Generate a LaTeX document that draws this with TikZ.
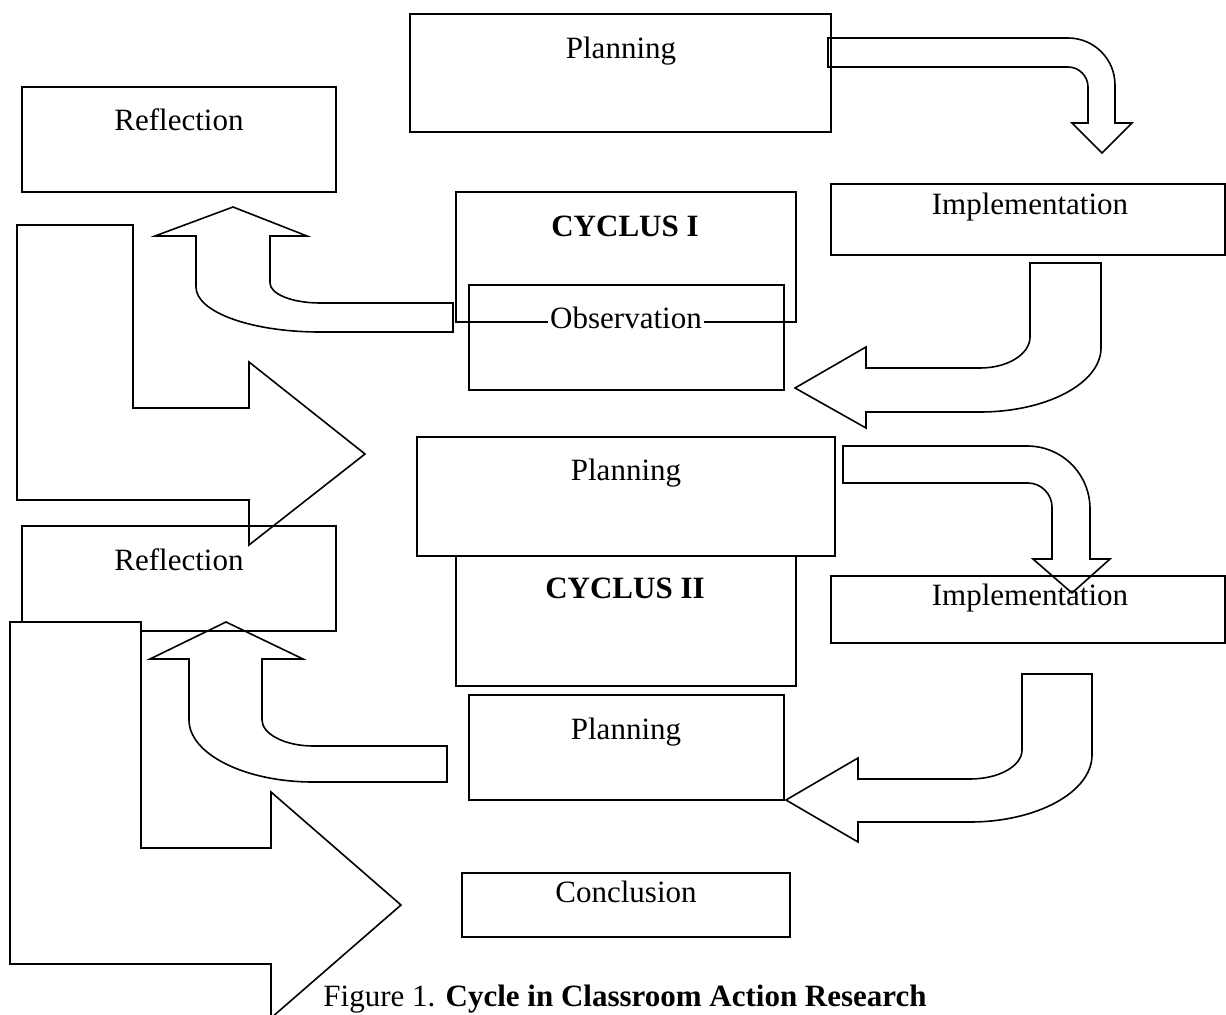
\documentclass[tikz,border=0pt]{standalone}
\usepackage{fontspec}
\setmainfont{Liberation Serif}
\usetikzlibrary{fit}
\begin{document}
\begin{tikzpicture}[x=0.5pt,y=-0.5pt,
  box/.style={draw,line width=1pt,inner sep=0pt,outer sep=0pt},
  barrow/.style={draw,line width=0.8pt,line join=miter},
  txt/.style={anchor=base,inner sep=0pt,font=\fontsize{15.5}{18}\selectfont},
  btxt/.style={txt,font=\fontsize{15.5}{18}\selectfont\bfseries}]
\useasboundingbox (0,0) rectangle (1226,1015);
\clip (0,0) rectangle (1226,1015);
% boxes
\node[box,fit={(410,14)(831,132)}] (plan1) {};
\node[box,fit={(22,87)(336,192)}] (refl1) {};
\node[box,fit={(831,184)(1225,255)}] (impl1) {};
\node[box,fit={(456,192)(796,322)}] (cyc1) {};
\node[box,fit={(469,285)(784,390)}] (obs) {};
\node[box,fit={(417,437)(835,556)}] (plan2) {};
\node[box,fit={(456,556)(796,686)}] (cyc2) {};
\node[box,fit={(469,695)(784,800)}] (plan3) {};
\node[box,fit={(22,526)(336,631)}] (refl2) {};
\node[box,fit={(831,576)(1225,643)}] (impl2) {};
\node[box,fit={(462,873)(790,937)}] (concl) {};
% block arrows
% A: Planning -> Implementation (cycle I)
\draw[barrow] (828,38) -- (1068,38) .. controls (1094,38) and (1115,59) .. (1115,85)
  -- (1115,123) -- (1132,123) -- (1102,153) -- (1072,123) -- (1088,123) -- (1088,87)
  .. controls (1088,76) and (1079,67) .. (1068,67) -- (828,67) -- cycle;
% B: Planning -> Implementation (cycle II)
\draw[barrow] (843,446) -- (1027,446) .. controls (1062,446) and (1090,474) .. (1090,509)
  -- (1090,559) -- (1110,559) -- (1072,593) -- (1033,559) -- (1052,559) -- (1052,507)
  .. controls (1052,494) and (1041,483) .. (1028,483) -- (843,483) -- cycle;
% C: Implementation -> Observation
\draw[barrow] (1030,263) -- (1101,263) -- (1101,348) .. controls (1101,383) and (1047,412) .. (980,412)
  -- (866,412) -- (866,428) -- (795,388) -- (866,347) -- (866,368) -- (980,368)
  .. controls (1008,368) and (1030,354) .. (1030,337) -- cycle;
% D: Implementation -> Planning (bottom)
\draw[barrow] (1022,674) -- (1092,674) -- (1092,755) .. controls (1092,792) and (1037,822) .. (970,822)
  -- (858,822) -- (858,842) -- (786,800) -- (858,758) -- (858,779) -- (970,779)
  .. controls (999,779) and (1022,766) .. (1022,750) -- cycle;
% E: Observation -> Reflection
\draw[barrow] (453,303) -- (320,303) .. controls (292,303) and (270,294) .. (270,283)
  -- (270,236) -- (307,236) -- (233,207) -- (155,236) -- (196,236) -- (196,287)
  .. controls (196,312) and (251,332) .. (320,332) -- (453,332) -- cycle;
% F: Planning (bottom) -> Reflection
\draw[barrow] (447,746) -- (313,746) .. controls (285,746) and (262,734) .. (262,720)
  -- (262,659) -- (303,659) -- (226,622) -- (150,659) -- (189,659) -- (189,720)
  .. controls (189,754) and (245,782) .. (313,782) -- (447,782) -- cycle;
% G: Reflection -> Planning (cycle II)
\draw[barrow] (17,225) -- (133,225) -- (133,408) -- (249,408) -- (249,362) -- (365,454)
  -- (249,545) -- (249,500) -- (17,500) -- cycle;
% H: Reflection -> Conclusion
\draw[barrow,fill=white] (10,622) -- (141,622) -- (141,848) -- (271,848) -- (271,792) -- (401,905)
  -- (271,1018) -- (271,964) -- (10,964) -- cycle;
% texts
\node[txt] (plan1t) at (621,59) {Planning};
\node[txt] (refl1t) at (179,131) {Reflection};
\node[txt] (impl1t) at (1030,215) {Implementation};
\node[btxt] (cyc1t) at (625,237) {CYCLUS I};
\node[txt,fill=white,inner sep=1pt] (obst) at (626,329) {Observation};
\node[txt] (plan2t) at (626,481) {Planning};
\node[btxt] (cyc2t) at (625,599) {CYCLUS II};
\node[txt] (plan3t) at (626,739) {Planning};
\node[txt] (refl2t) at (179,571) {Reflection};
\node[txt] (impl2t) at (1030,606) {Implementation};
\node[txt] (conclt) at (626,902) {Conclusion};
\node[txt,anchor=base west] (capt) at (323,1006) {Figure 1. \textbf{Cycle in Classroom Action Research}};
\end{tikzpicture}
\end{document}
